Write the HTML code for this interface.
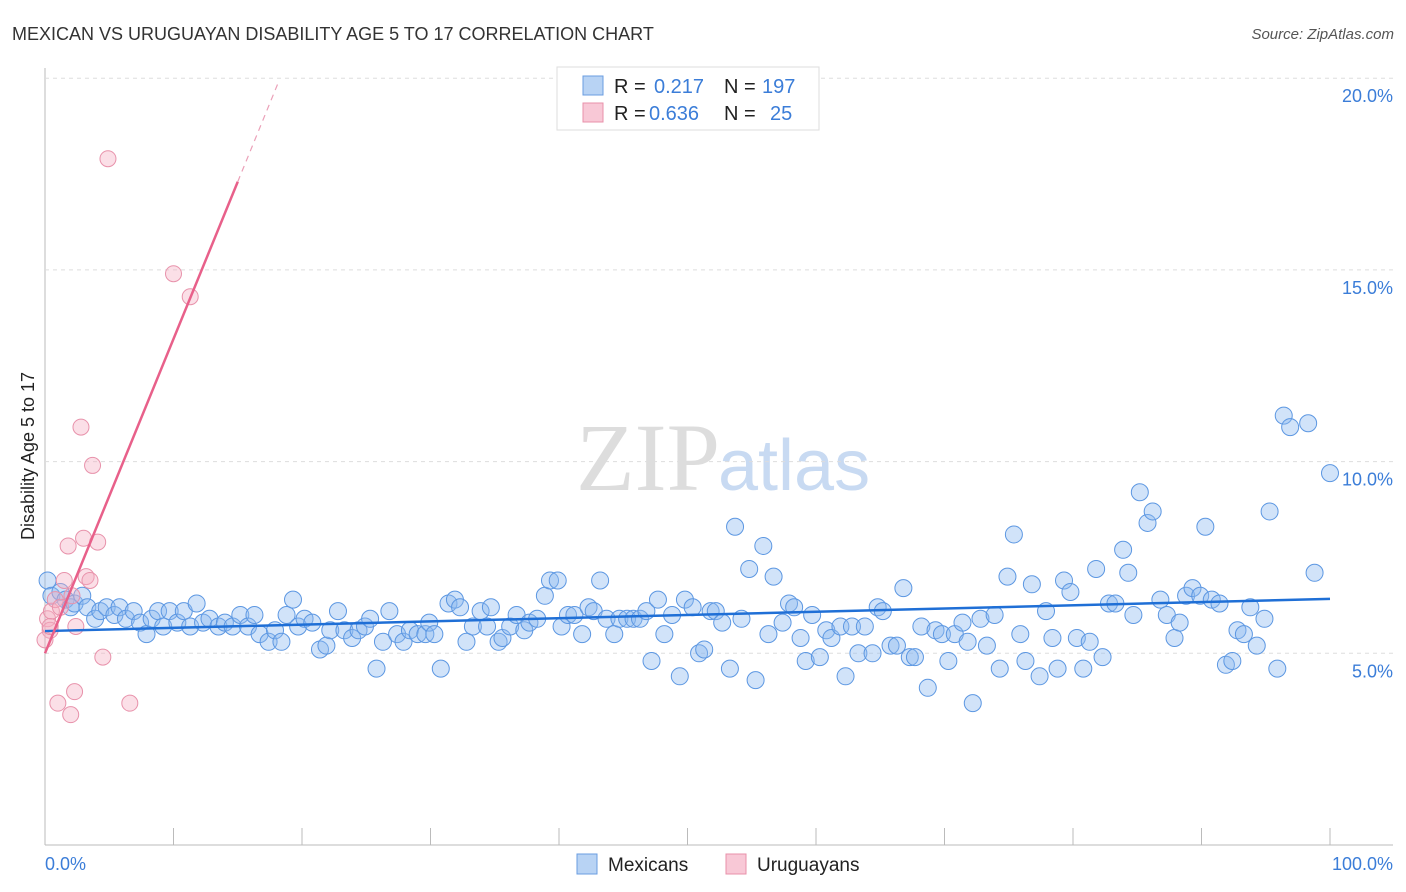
<!DOCTYPE html>
<html><head><meta charset="utf-8"><style>
body{margin:0;background:#fff;font-family:"Liberation Sans",sans-serif;}
svg{display:block}
</style></head><body>
<svg width="1406" height="892" id="chart">
<text x="12" y="40" font-size="18" fill="#333">MEXICAN VS URUGUAYAN DISABILITY AGE 5 TO 17 CORRELATION CHART</text>
<text x="1394" y="39" font-size="15" fill="#555" font-style="italic" text-anchor="end">Source: ZipAtlas.com</text>
<text x="720" y="490" font-size="96" fill="#ddd" text-anchor="end" font-family="Liberation Serif">ZIP</text>
<text x="718" y="490" font-size="72" fill="#c8daf2">atlas</text>
<g id="grid"></g>
<g id="pts"></g>
<g id="lines"></g>
<text transform="translate(34,456) rotate(-90)" font-size="18" fill="#222" text-anchor="middle">Disability Age 5 to 17</text>
<text x="45" y="870" font-size="18" fill="#3b7dd8">0.0%</text>
<text x="1393" y="870" font-size="18" fill="#3b7dd8" text-anchor="end">100.0%</text>
<g>
<rect x="557" y="67" width="262" height="63" fill="#fff" stroke="#ddd"/>
<rect x="583" y="76" width="20" height="19" fill="#b8d3f4" stroke="#6a9de0"/>
<rect x="583" y="103" width="20" height="19" fill="#f8c8d6" stroke="#e890aa"/>
<text x="614" y="93" font-size="20" fill="#222">R = </text><text x="654" y="93" font-size="20" fill="#3b7dd8">0.217</text>
<text x="724" y="93" font-size="20" fill="#222">N = </text><text x="762" y="93" font-size="20" fill="#3b7dd8">197</text>
<text x="614" y="120" font-size="20" fill="#222">R = </text><text x="649" y="120" font-size="20" fill="#3b7dd8">0.636</text>
<text x="724" y="120" font-size="20" fill="#222">N = </text><text x="770" y="120" font-size="20" fill="#3b7dd8">25</text>
</g>
<g>
<rect x="577" y="854" width="20" height="20" fill="#b8d3f4" stroke="#6a9de0"/>
<text x="608" y="871" font-size="19" fill="#222">Mexicans</text>
<rect x="726" y="854" width="20" height="20" fill="#f8c8d6" stroke="#e890aa"/>
<text x="757" y="871" font-size="19" fill="#222">Uruguayans</text>
</g>
</svg>
<script>
const yTicks=[5,10,15,20];
const yTickLabels=["5.0%","10.0%","15.0%","20.0%"];
const mexX=[0.2,0.5,1.2,1.6,2.0,2.3,2.9,3.3,3.9,4.3,4.8,5.4,5.8,6.3,6.9,7.4,7.9,8.3,8.8,9.2,9.7,10.3,10.8,11.3,11.8,12.3,12.8,13.5,14.0,14.6,15.2,15.8,16.3,16.7,17.4,17.9,18.4,18.8,19.3,19.7,20.2,20.8,21.4,21.9,22.2,22.8,23.3,23.9,24.4,24.9,25.3,25.8,26.3,26.8,27.4,27.9,28.4,29.0,29.6,29.9,30.3,30.8,31.4,31.9,32.3,32.8,33.3,33.9,34.4,34.7,35.3,35.6,36.2,36.7,37.3,37.7,38.3,38.9,39.3,39.9,40.2,40.7,41.2,41.8,42.3,42.7,43.2,43.7,44.3,44.7,45.3,45.8,46.3,46.8,47.2,47.7,48.2,48.8,49.4,49.8,50.4,50.9,51.3,51.8,52.2,52.7,53.3,53.7,54.2,54.8,55.3,55.9,56.3,56.7,57.4,57.9,58.3,58.8,59.2,59.7,60.3,60.8,61.2,61.9,62.3,62.8,63.3,63.8,64.4,64.8,65.2,65.8,66.3,66.8,67.3,67.7,68.2,68.7,69.3,69.8,70.3,70.8,71.4,71.8,72.2,72.8,73.3,73.9,74.3,74.9,75.4,75.9,76.3,76.8,77.4,77.9,78.4,78.8,79.3,79.8,80.3,80.8,81.3,81.8,82.3,82.8,83.3,83.9,84.3,84.7,85.2,85.8,86.2,86.8,87.3,87.9,88.3,88.8,89.3,89.9,90.3,90.8,91.4,91.9,92.4,92.8,93.3,93.8,94.3,94.9,95.3,95.9,96.4,96.9,98.3,98.8,100];
const mexY=[6.9,6.5,6.6,6.4,6.2,6.3,6.5,6.2,5.9,6.1,6.2,6.0,6.2,5.9,6.1,5.8,5.5,5.9,6.1,5.7,6.1,5.8,6.1,5.7,6.3,5.8,5.9,5.7,5.8,5.7,6.0,5.7,6.0,5.5,5.3,5.6,5.3,6.0,6.4,5.7,5.9,5.8,5.1,5.2,5.6,6.1,5.6,5.4,5.6,5.7,5.9,4.6,5.3,6.1,5.5,5.3,5.6,5.5,5.5,5.8,5.5,4.6,6.3,6.4,6.2,5.3,5.7,6.1,5.7,6.2,5.3,5.4,5.7,6.0,5.6,5.8,5.9,6.5,6.9,6.9,5.7,6.0,6.0,5.5,6.2,6.1,6.9,5.9,5.5,5.9,5.9,5.9,5.9,6.1,4.8,6.4,5.5,6.0,4.4,6.4,6.2,5.0,5.1,6.1,6.1,5.8,4.6,8.3,5.9,7.2,4.3,7.8,5.5,7.0,5.8,6.3,6.2,5.4,4.8,6.0,4.9,5.6,5.4,5.7,4.4,5.7,5.0,5.7,5.0,6.2,6.1,5.2,5.2,6.7,4.9,4.9,5.7,4.1,5.6,5.5,4.8,5.5,5.8,5.3,3.7,5.9,5.2,6.0,4.6,7.0,8.1,5.5,4.8,6.8,4.4,6.1,5.4,4.6,6.9,6.6,5.4,4.6,5.3,7.2,4.9,6.3,6.3,7.7,7.1,6.0,9.2,8.4,8.7,6.4,6.0,5.4,5.8,6.5,6.7,6.5,8.3,6.4,6.3,4.7,4.8,5.6,5.5,6.2,5.2,5.9,8.7,4.6,11.2,10.9,11.0,7.1,9.7];
const uruX=[0.2,0.4,0.5,0.8,1.0,1.2,1.5,1.8,2.0,2.1,2.3,2.4,2.8,3.0,3.2,3.5,3.7,4.1,4.5,4.9,6.6,10.0,11.3,0.0,0.4];
const uruY=[5.9,5.6,6.1,6.4,3.7,6.2,6.9,7.8,3.4,6.5,4.0,5.7,10.9,8.0,7.0,6.9,9.9,7.9,4.9,17.9,3.7,14.9,14.3,5.35,5.7];
const mexTrend=[5.58,6.42];
const uruTrend=[5.0,0.82];
const NS="http://www.w3.org/2000/svg";
const X=v=>45+v*12.85, Y=v=>845-v*38.34;
function mk(t,a,p){const e=document.createElementNS(NS,t);for(const k in a)e.setAttribute(k,a[k]);p.appendChild(e);return e;}
const grid=document.getElementById('grid');
mk('line',{x1:45,y1:68,x2:45,y2:845,stroke:'#bbb'},grid);
mk('line',{x1:45,y1:845,x2:1393,y2:845,stroke:'#bbb'},grid);
for(let k=1;k<=10;k++){const l=mk('line',{x1:X(k*10),y1:828,x2:X(k*10),y2:845,stroke:'#bbb'},grid);

}
yTicks.forEach((v,i)=>{const g=mk('line',{x1:45,y1:Y(v),x2:1393,y2:Y(v),stroke:'#ddd','stroke-dasharray':'4,4'},grid);


const t=mk('text',{x:1393,y:Y(v)+24,'font-size':18,fill:'#3b7dd8','text-anchor':'end'},grid);t.textContent=yTickLabels[i];

});
const pts=document.getElementById('pts');
mexX.forEach((x,i)=>{const c=mk('circle',{cx:X(x),cy:Y(mexY[i]),r:8.5,fill:'rgba(140,185,240,0.4)',stroke:'#5c97e2','stroke-width':1},pts);

});
uruX.forEach((x,i)=>{const c=mk('circle',{cx:X(x),cy:Y(uruY[i]),r:8,fill:'rgba(245,175,195,0.4)',stroke:'#e892ab','stroke-width':1},pts);

});
const lines=document.getElementById('lines');
const bl=mk('line',{x1:X(0),y1:Y(mexTrend[0]),x2:X(100),y2:Y(mexTrend[1]),stroke:'#1f6fd6','stroke-width':2.5},lines);


const pl=mk('line',{x1:X(0),y1:Y(uruTrend[0]),x2:X(15),y2:Y(uruTrend[0]+uruTrend[1]*15),stroke:'#e8608a','stroke-width':2.5},lines);


const pd=mk('line',{x1:X(15),y1:Y(uruTrend[0]+uruTrend[1]*15),x2:X(18.1),y2:Y(uruTrend[0]+uruTrend[1]*18.1),stroke:'#eba0b8','stroke-width':1.2,'stroke-dasharray':'6,5'},lines);


</script>
</body></html>
